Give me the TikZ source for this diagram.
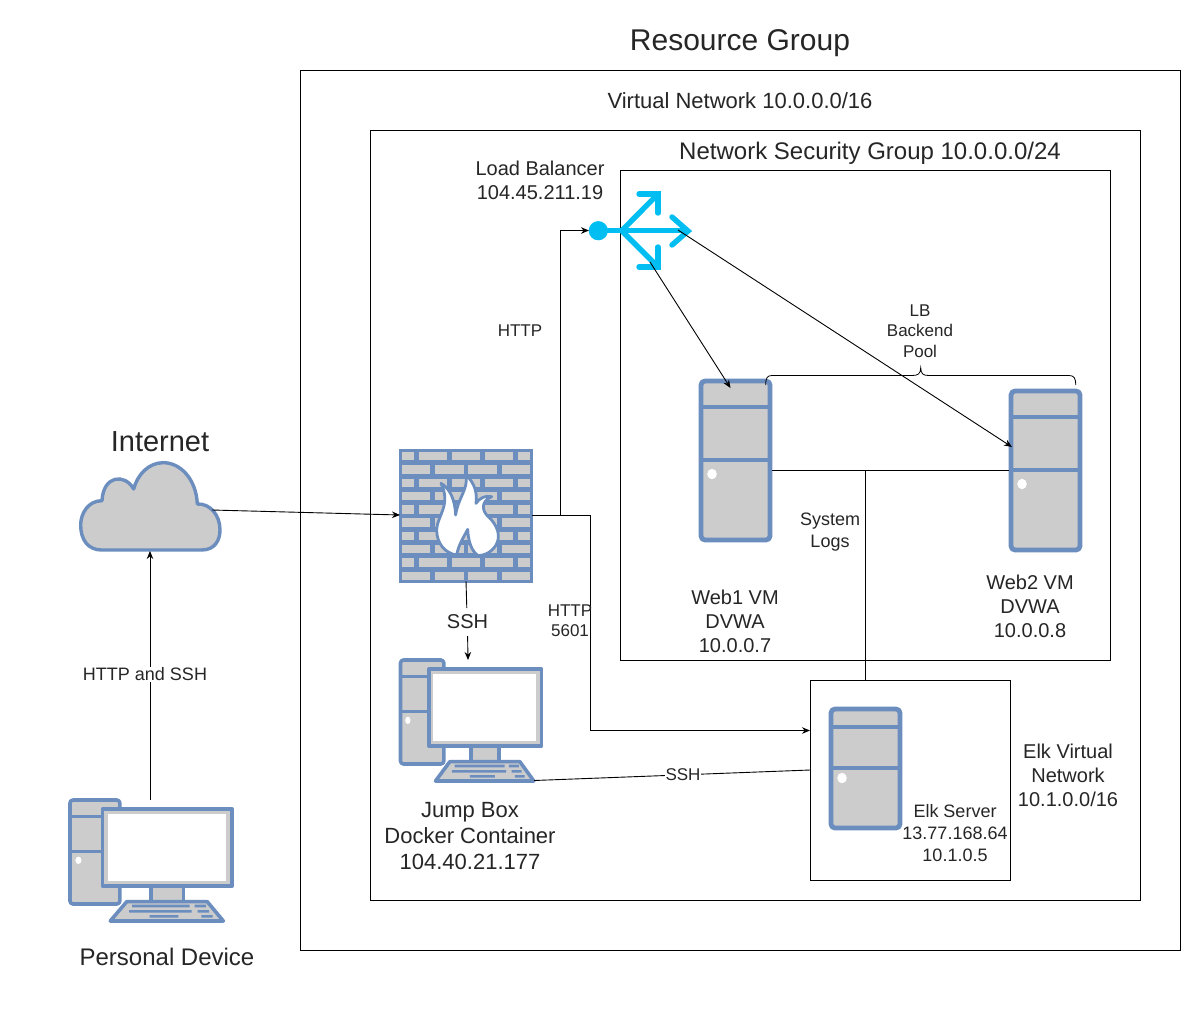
\documentclass[tikz,border=0pt]{standalone}
\usepackage{fontspec}
\setmainfont{Liberation Sans}
\usetikzlibrary{arrows.meta}
\definecolor{icb}{HTML}{6C8EBF}
\definecolor{icf}{HTML}{CCCCCC}
\definecolor{lbc}{HTML}{00BEF2}
\newcommand{\fs}[1]{\fontsize{#1}{1.2\dimexpr #1pt\relax}\selectfont}
\tikzset{
  zone/.style={draw=black,fill=none,line width=0.9pt},
  lbl/.style={align=center,inner sep=0pt,text=black!85},
  big/.style={lbl,font=\fs{20}},
  small/.style={lbl,font=\fs{17}},
  onwhite/.style={fill=white,inner sep=1pt},
  conn/.style={draw=black,line width=0.9pt},
  arr/.style={conn,-{Stealth[length=8pt,width=6.5pt]}},
  icon/.style={draw=icb,fill=icf,line join=round},
  lbline/.style={draw=lbc,line width=5.4pt,line cap=round,line join=miter}
}
% server: x y width height div1 div2 buttonoffset
\newcommand{\srv}[7]{%
  \begin{scope}[shift={(#1,#2)}]
    \draw[icon,line width=4.8pt,rounded corners=4pt] (0,0) rectangle (#3,#4);
    \draw[icb,line width=4.4pt] (0,#5) -- (#3,#5) (0,#6) -- (#3,#6);
    \fill[white] (11,#6+#7) ellipse (4.8 and 5.2);
  \end{scope}}
% computer: x y xscale yscale (units: zoom coordinates of the jump box)
\newcommand{\pcicon}[4]{%
  \begin{scope}[shift={(#1,#2)},xscale=#3/3,yscale=#4/3]
    \draw[icon,line width=3.6pt,rounded corners=3pt] (30,30) rectangle (160,342);
    \draw[icb,line width=3.6pt] (30,80) -- (115,80) (30,185) -- (115,185);
    \fill[white] (52,211) ellipse (8 and 11);
    \draw[icon,line width=3.6pt] (115,57) rectangle (453,288);
    \fill[white] (128,72) rectangle (437,272);
    \draw[icon,line width=3.6pt] (242,288) rectangle (326,335);
    \draw[icon,line width=3.6pt] (135,393) -- (178,335) -- (388,335) -- (430,393) -- cycle;
    \fill[icb] (192,344) rectangle (342,352) (355,344) rectangle (385,352)
      (184,360) rectangle (347,368) (363,360) rectangle (393,368)
      (238,375) rectangle (313,383) (373,375) rectangle (402,383);
  \end{scope}}
\begin{document}
\begin{tikzpicture}[x=1pt,y=-1pt]
\useasboundingbox (0,0) rectangle (1182,1012);
\fill[white] (0,0) rectangle (1182,1012);
% zones
\node[big,font=\fs{30}] (tRG) at (740,43) {Resource Group};
\draw[zone] (300.5,70.5) rectangle (1180.5,950.5);
\node[big,font=\fs{22}] (tVN) at (740,100.5) {Virtual Network 10.0.0.0/16};
\draw[zone] (370.5,130.5) rectangle (1140.5,900.5);
\node[big,font=\fs{24}] (tNSG) at (870,153) {Network Security Group 10.0.0.0/24};
\draw[zone] (620.5,170.5) rectangle (1110.5,660.5);
\draw[zone] (810.5,680.5) rectangle (1010.5,880.5);
% cloud
\begin{scope}[shift={(60,450)},scale=1/3]
\draw[icon,line width=3.4pt] (125,300) -- (425,300)
 .. controls (465,300) and (480,270) .. (480,240)
 .. controls (480,195) and (450,160) .. (412,162)
 .. controls (408,85) and (360,38) .. (310,38)
 .. controls (265,38) and (232,75) .. (221,117)
 .. controls (195,70) and (130,75) .. (126,152)
 .. controls (85,152) and (62,190) .. (62,225)
 .. controls (62,270) and (85,300) .. (125,300) -- cycle;
\end{scope}
\node[big,font=\fs{29}] (tNet) at (160,442) {Internet};
% firewall
\begin{scope}[shift={(399.5,449.5)}]
\fill[icf] (0,0) rectangle (133,133);
\foreach \r in {0,2,4,6,8} {
  \foreach \a/\b in {0/16.6,16.6/50,50/83.2,83.2/116.4,116.4/133} {
    \draw[draw=icb,line width=2.5pt,fill=icf] (\a+1.2,\r*13.3+1.2) rectangle (\b-1.2,\r*13.3+12.1);
  }
}
\foreach \r in {1,3,5,7,9} {
  \foreach \a/\b in {0/33.2,33.2/66.5,66.5/99.8,99.8/133} {
    \draw[draw=icb,line width=2.5pt,fill=icf] (\a+1.2,\r*13.3+1.2) rectangle (\b-1.2,\r*13.3+12.1);
  }
}
\end{scope}
\begin{scope}[shift={(390,440)},scale=1/3]
\draw[draw=icb,fill=white,line width=2.8pt,line join=round]
 (200,345) .. controls (165,340) and (140,310) .. (140,270)
 .. controls (140,230) and (185,195) .. (153,130)
 .. controls (180,145) and (195,180) .. (197,225)
 .. controls (205,170) and (235,150) .. (228,105)
 .. controls (255,130) and (262,160) .. (258,190)
 .. controls (268,175) and (285,165) .. (305,170)
 .. controls (270,185) and (275,215) .. (300,235)
 .. controls (320,255) and (327,280) .. (325,295)
 .. controls (320,325) and (295,345) .. (265,347)
 .. controls (245,335) and (235,305) .. (233,268)
 .. controls (222,290) and (205,315) .. (200,345) -- cycle;
\end{scope}
% servers
\srv{701}{381}{69}{159}{26}{79}{14}
\srv{1011}{391}{69}{159}{26}{79}{14}
\srv{831}{709}{69}{119}{18}{59}{10}
% computers
\pcicon{390.5}{650}{1}{1}
\pcicon{58.5}{790}{1.15}{1}
% load balancer
\fill[lbc] (598.3,230.7) circle (9.6);
\draw[lbline] (598,230.7) -- (686,230.7);
\draw[lbline,line cap=butt] (621.7,230.7) -- (658,194);
\draw[lbline,line cap=butt] (621.7,230.7) -- (658,267);
\draw[lbline] (639,194) -- (658,194) -- (658,213);
\draw[lbline] (639,267) -- (658,267) -- (658,247);
\draw[lbline] (672,217) -- (688,231) -- (672,245);
% anchors
\coordinate (cloudR) at (212,510);
\coordinate (cloudB) at (150,551);
\coordinate (fwL) at (400,515);
\coordinate (fwR) at (532,515.5);
\coordinate (fwB) at (466,581);
\coordinate (jbT) at (468,660);
\coordinate (jbR) at (534,780.5);
\coordinate (pdT) at (150,800);
\coordinate (lbL) at (589,230.5);
\coordinate (lbU) at (650,262);
\coordinate (lbR) at (678,230);
\coordinate (webA) at (730.5,388);
\coordinate (webB) at (1012,447);
\coordinate (webAR) at (772,470.5);
\coordinate (webBL) at (1009,470.5);
\coordinate (elkT) at (865.5,680);
\coordinate (elkL) at (810,730.5);
\coordinate (elkS) at (810,770);
% connectors
\draw[arr] (pdT) -- (cloudB);
\node[small,font=\fs{18},onwhite] (lHS) at (145,674.5) {HTTP and SSH};
\draw[arr] (cloudR) -- (fwL);
\draw[arr] (fwR) -| (560.5,400) |- (lbL);
\draw[arr] (fwR) -- (590.5,515.5) -- (590.5,730.5) -- (elkL);
\draw[conn] (fwB) -- (466.8,608);
\draw[arr] (467.6,636) -- (jbT);
\node[big] (lSSH) at (467.5,622) {SSH};
\draw[conn] (jbR) -- (elkS);
\node[small,onwhite] (lSSH2) at (683,775) {SSH};
\draw[arr] (lbU) -- (webA);
\draw[arr] (lbR) -- (webB);
\draw[conn] (webAR) -- (webBL);
\draw[conn] (865.5,470.5) -- (elkT);
% brace
\draw[conn,line width=0.8pt] (765.7,385) .. controls (765.7,378) and (767,375.5) .. (772,375.5)
 -- (912,375.5) .. controls (918,375.5) and (920.5,374) .. (920.7,367.7)
 .. controls (921,374) and (923,375.5) .. (929,375.5)
 -- (1069,375.5) .. controls (1074,375.5) and (1075.7,378) .. (1075.7,385);
% labels
\node[big,font=\fs{20}] (tLB) at (540,180.5) {Load Balancer\\104.45.211.19};
\node[small] (tHTTP) at (520,331) {HTTP};
\node[small] (tPool) at (920,331) {LB\\Backend\\Pool};
\node[small,font=\fs{18},onwhite,inner sep=0pt] (tLogs) at (830,532) {System\\Logs};
\node[small] (t5601) at (570,621) {HTTP\\5601};
\node[big] (tW1) at (735,621) {Web1 VM\\DVWA\\10.0.0.7};
\node[big] (tW2) at (1030,606) {Web2 VM\\DVWA\\10.0.0.8};
\node[big,font=\fs{22}] (tJB) at (470,836) {Jump Box\\Docker Container\\104.40.21.177};
\node[lbl,font=\fs{18}] (tElk) at (955,833) {Elk Server\\13.77.168.64\\10.1.0.5};
\node[big] (tEV) at (1068,775) {Elk Virtual\\Network\\10.1.0.0/16};
\node[big,font=\fs{24}] (tPD) at (167,957) {Personal Device};
\end{tikzpicture}
\end{document}
